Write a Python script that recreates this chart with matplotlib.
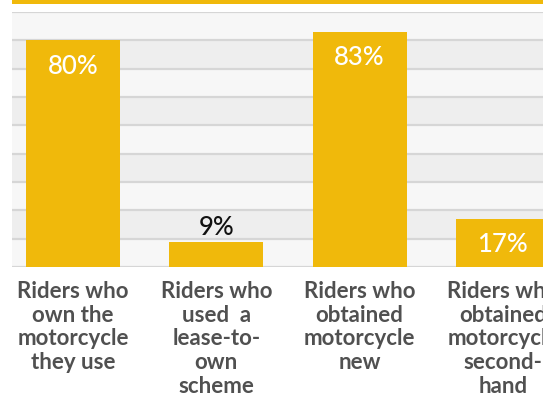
import matplotlib
matplotlib.use("Agg")
from matplotlib import pyplot as plt
from matplotlib.patches import Rectangle

categories = [
    "Riders who\nown the\nmotorcycle\nthey use",
    "Riders who\nused  a\nlease-to-\nown\nscheme",
    "Riders who\nobtained\nmotorcycle\nnew",
    "Riders who\nobtained\nmotorcycle\nsecond-\nhand",
]
values = [80, 9, 83, 17]
labels = ["80%", "9%", "83%", "17%"]

YELLOW = "#F0B90B"

plt.rcParams['font.family'] = ['Lato', 'DejaVu Sans']

fig = plt.figure(figsize=(5.43, 3.97), dpi=100)
W, H = 543, 397
ax = fig.add_axes([12 / W, (H - 267) / H, (W - 12) / W, (267 - 12) / H])

# striped background
for i in range(9):
    ax.axhspan(i * 10, (i + 1) * 10, color="#f7f7f7" if i % 2 == 0 else "#eeeeee",
               lw=0, zorder=0)
for i in range(10):
    ax.axhline(i * 10, color="#d6d6d6", lw=1.6, zorder=1)

x = list(range(len(values)))
ax.bar(x, values, width=0.656, color=YELLOW, zorder=2)

for xi, v, lab in zip(x, values, labels):
    if v > 12:
        ax.text(xi, v - 9.2, lab, ha="center", va="center", color="white",
                fontsize=18.5, fontweight="medium", zorder=3)
    else:
        ax.text(xi, v + 5, lab, ha="center", va="center", color="#111111",
                fontsize=18.5, fontweight="medium", zorder=3)

ax.set_ylim(0, 90)
ax.set_xlim(-(73 - 12) / 143.3, (543 - 73) / 143.3)
ax.set_xticks(x)
ax.set_xticklabels(categories, fontsize=16, fontweight="bold", color="#505050",
                   linespacing=1.16)
ax.tick_params(axis="x", length=0, pad=10)
ax.set_yticks([])
for s in ax.spines.values():
    s.set_visible(False)

# yellow band at top
fig.patches.append(Rectangle((12 / W, 1 - 4 / H), 1, 4 / H, transform=fig.transFigure,
                             color=YELLOW, lw=0))

fig.savefig("out.png", dpi=100)
